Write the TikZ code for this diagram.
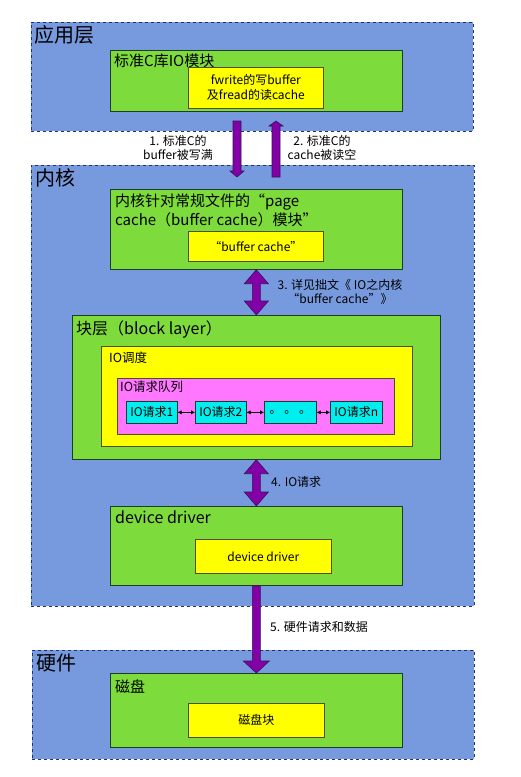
\documentclass[tikz,border=0pt]{standalone}
\usepackage{fontspec}
\setmainfont{Noto Sans CJK SC}
\usetikzlibrary{arrows.meta, positioning, calc}
\definecolor{layerblue}{RGB}{119,153,221}
\definecolor{layeredge}{RGB}{30,50,120}
\definecolor{modgreen}{RGB}{125,220,60}
\definecolor{modedge}{RGB}{30,60,40}
\definecolor{subyellow}{RGB}{255,255,0}
\definecolor{subedge}{RGB}{80,80,30}
\definecolor{queuepink}{RGB}{255,119,255}
\definecolor{reqcyan}{RGB}{0,238,238}
\definecolor{flowpurple}{RGB}{130,0,165}
\definecolor{flowedge}{RGB}{50,20,90}

\tikzset{
  boxsize/.style 2 args={minimum width=#1pt, minimum height=#2pt},
  layer/.style={draw=layeredge, fill=layerblue, dashed, line width=0.7pt, anchor=north west, inner sep=0pt},
  module/.style={draw=modedge, fill=modgreen, line width=0.7pt, anchor=north west, inner sep=0pt},
  subbox/.style={draw=subedge, fill=subyellow, line width=0.7pt, anchor=north west, inner sep=0pt, align=center, font=\fontsize{12}{15}\selectfont},
  queuebox/.style={draw=subedge, fill=queuepink, line width=0.7pt, anchor=north west, inner sep=0pt},
  reqbox/.style={draw=modedge, fill=reqcyan, line width=0.7pt, anchor=north west, inner sep=0pt, font=\fontsize{12}{14}\selectfont},
  bigtitle/.style={inner sep=0pt, anchor=north west, font=\fontsize{20}{22}\selectfont},
  modtitle/.style={inner sep=0pt, anchor=north west, align=left, font=\fontsize{15}{19}\selectfont},
  smalltitle/.style={inner sep=0pt, anchor=north west, font=\fontsize{12.5}{14}\selectfont},
  steplabel/.style={inner sep=0pt, align=center, font=\fontsize{12}{14}\selectfont},
  reqlink/.style={{Latex[length=4pt,width=4.5pt]}-{Latex[length=4pt,width=4.5pt]}, line width=1pt},
  % single fat arrow: shaft half width, head half width, head length
  fatarrow/.style n args={3}{draw=flowedge, fill=flowpurple, line width=0.6pt,
    to path={
      ($(\tikztostart)!#1!90:(\tikztotarget)$)
      -- ($(\tikztotarget)!#3!(\tikztostart)!#1!-90:(\tikztostart)$)
      -- ($(\tikztotarget)!#3!(\tikztostart)!#2!-90:(\tikztostart)$)
      -- (\tikztotarget)
      -- ($(\tikztotarget)!#3!(\tikztostart)!#2!90:(\tikztostart)$)
      -- ($(\tikztotarget)!#3!(\tikztostart)!#1!90:(\tikztostart)$)
      -- ($(\tikztostart)!#1!-90:(\tikztotarget)$)
      -- cycle}},
  dblarrow/.style n args={3}{draw=flowedge, fill=flowpurple, line width=0.6pt,
    to path={
      (\tikztostart)
      -- ($(\tikztostart)!#3!(\tikztotarget)!#2!90:(\tikztotarget)$)
      -- ($(\tikztostart)!#3!(\tikztotarget)!#1!90:(\tikztotarget)$)
      -- ($(\tikztotarget)!#3!(\tikztostart)!#1!-90:(\tikztostart)$)
      -- ($(\tikztotarget)!#3!(\tikztostart)!#2!-90:(\tikztostart)$)
      -- (\tikztotarget)
      -- ($(\tikztotarget)!#3!(\tikztostart)!#2!90:(\tikztostart)$)
      -- ($(\tikztotarget)!#3!(\tikztostart)!#1!90:(\tikztostart)$)
      -- ($(\tikztostart)!#3!(\tikztotarget)!#1!-90:(\tikztotarget)$)
      -- ($(\tikztostart)!#3!(\tikztotarget)!#2!-90:(\tikztotarget)$)
      -- cycle}},
}

\begin{document}
\begin{tikzpicture}[x=1pt, y=-1pt]
  \useasboundingbox[fill=white] (0,0) rectangle (520,777);

  % layers
  \node[layer, boxsize={442}{109}] (app) at (31,22) {};
  \node[layer, boxsize={443}{441}] (kernel) at (31,165) {};
  \node[layer, boxsize={442}{109}] (hw) at (32,650) {};
  \node[bigtitle, below right=3pt and 3pt of app.north west] (apptitle) {应用层};
  \node[bigtitle, below right=3pt and 4pt of kernel.north west] (kerneltitle) {内核};
  \node[bigtitle, below right=4pt and 4pt of hw.north west] (hwtitle) {硬件};

  % application layer
  \node[module, boxsize={292}{61}] (stdc) at (110,50) {};
  \node[modtitle, below right=4pt and 4pt of stdc.north west] (stdctitle) {标准C库IO模块};
  \node[subbox, boxsize={135}{41}] (stdcbuf) at (188,67) {fwrite的写buffer\\及fread的读cache};

  % kernel
  \node[module, boxsize={292}{80}] (pagecache) at (110,189) {};
  \node[modtitle, below right=5pt and 5pt of pagecache.north west] (pagetitle) {内核针对常规文件的“page\\cache（buffer cache）模块”};
  \node[subbox, boxsize={135}{30}] (bufcache) at (188,231) {“buffer cache”};

  \node[module, boxsize={368}{144}] (block) at (72,315) {};
  \node[modtitle, font=\fontsize{16}{19}\selectfont, below right=6pt and 4pt of block.north west] (blocktitle) {块层（block layer）};
  \node[subbox, boxsize={311}{100}] (sched) at (101,346) {};
  \node[smalltitle, below right=6pt and 8pt of sched.north west] (schedtitle) {IO调度};
  \node[queuebox, boxsize={277}{56}] (queue) at (117,378) {};
  \node[smalltitle, below right=3pt and 3pt of queue.north west] (queuetitle) {IO请求队列};
  \node[reqbox, boxsize={51}{22}] (req1) at (126,401) {IO请求1};
  \node[reqbox, boxsize={51}{22}] (req2) at (195,401) {IO请求2};
  \node[reqbox, boxsize={52}{22}] (reqdots) at (264,401) {。 。 。};
  \node[reqbox, boxsize={52}{22}] (reqn) at (330,401) {IO请求n};
  \draw[reqlink] (req1) -- (req2);
  \draw[reqlink] (req2) -- (reqdots);
  \draw[reqlink] (reqdots) -- (reqn);

  \node[module, boxsize={292}{79}] (driver) at (110,506) {};
  \node[modtitle, font=\fontsize{16}{19}\selectfont, below right=5pt and 5pt of driver.north west] (drivertitle) {device driver};
  \node[subbox, boxsize={136}{34}] (driverin) at (195,539) {device driver};

  % hardware
  \node[module, boxsize={292}{74}] (disk) at (110,673) {};
  \node[modtitle, below right=7pt and 5pt of disk.north west] (disktitle) {磁盘};
  \node[subbox, boxsize={136}{34}] (diskblock) at (188,703) {磁盘块};

  % flows
  \coordinate (wtop) at (237,121);
  \coordinate (wbot) at (237,177);
  \coordinate (rbot) at (276,177);
  \coordinate (rtop) at (276,121);
  \draw[fatarrow={4pt}{7pt}{6pt}] (wtop) to (wbot);
  \draw[fatarrow={4pt}{7pt}{5pt}] (rbot) to (rtop);
  \draw[dblarrow={4pt}{12pt}{14pt}] (pagecache.south) to (block.north);
  \draw[dblarrow={4pt}{12pt}{14pt}] (block.south) to (driver.north);
  \draw[fatarrow={4pt}{13pt}{12pt}] (driver.south) to (disk.north);

  \node[steplabel] (step1) at (178,148) {1. 标准C的\\buffer被写满};
  \node[steplabel] (step2) at (322,148) {2. 标准C的\\cache被读空};
  \node[steplabel] (step3) at (340,292) {3. 详见拙文《 IO之内核\\“buffer cache”》};
  \node[steplabel, anchor=west] (step4) at (271,482) {4. IO请求};
  \node[steplabel, anchor=west] (step5) at (270,627) {5. 硬件请求和数据};
\end{tikzpicture}
\end{document}
